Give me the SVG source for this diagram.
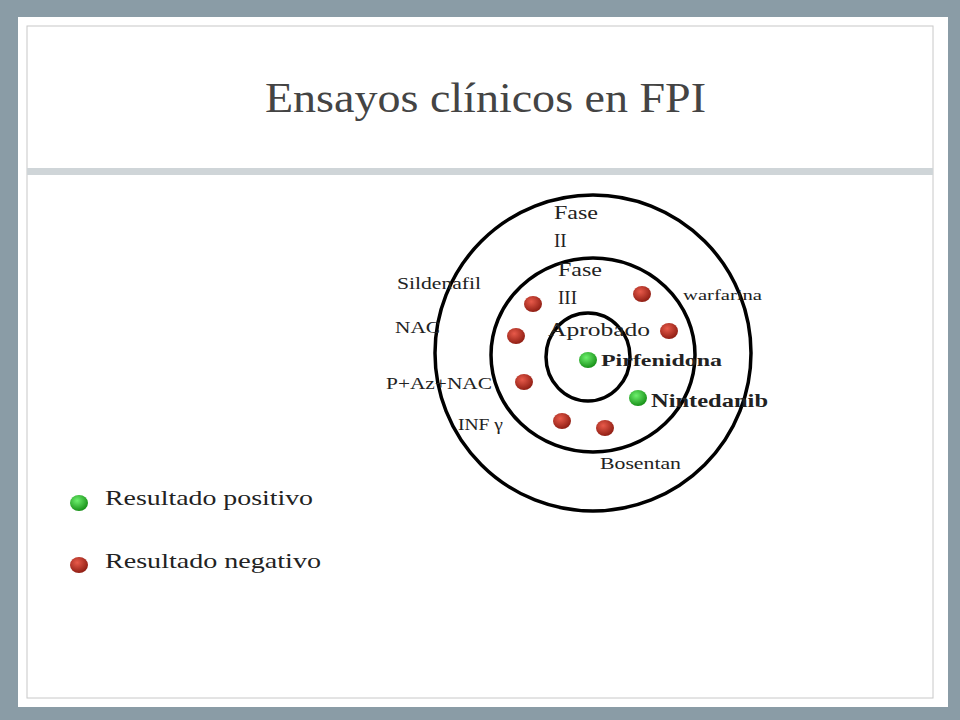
<svg xmlns="http://www.w3.org/2000/svg" width="960" height="720" viewBox="0 0 960 720">
<defs>
<radialGradient id="gr" cx="0.4" cy="0.35" r="0.7"><stop offset="0" stop-color="#e85a4a"/><stop offset="1" stop-color="#8a1a10"/></radialGradient>
<radialGradient id="gg" cx="0.4" cy="0.35" r="0.7"><stop offset="0" stop-color="#6ef06e"/><stop offset="1" stop-color="#128a12"/></radialGradient>
<style>
text{font-family:"Liberation Serif","DejaVu Serif",serif;fill:#222}
.ring{fill:none;stroke:#000;stroke-width:3.5}
.r{fill:url(#gr)}
.g{fill:url(#gg)}
.b{font-weight:bold}
</style>
</defs>
<rect width="960" height="720" fill="#8a9ca6"/>
<rect x="18" y="17" width="930" height="690" fill="#fff"/>
<rect x="27" y="26" width="906" height="672" fill="none" stroke="#c8c8c8" stroke-width="1"/>
<rect x="27" y="168" width="906" height="7" fill="#cfd5d8"/>
<text x="265" y="112" font-size="42" textLength="441" lengthAdjust="spacingAndGlyphs" style="fill:#444">Ensayos clínicos en FPI</text>
<g id="rings">
<circle class="ring" cx="593" cy="353" r="158"/>
<ellipse class="ring" cx="593" cy="355" rx="102" ry="97"/>
<ellipse class="ring" cx="588" cy="357" rx="42" ry="44"/>
</g>
<g id="labels" font-size="19">
<text x="554" y="219" textLength="44" lengthAdjust="spacingAndGlyphs">Fase</text>
<text x="554" y="247">II</text>
<text x="558" y="276" textLength="44" lengthAdjust="spacingAndGlyphs">Fase</text>
<text x="558" y="304">III</text>
<text x="548" y="336" textLength="102" lengthAdjust="spacingAndGlyphs">Aprobado</text>
<text x="397" y="289" font-size="16" textLength="84" lengthAdjust="spacingAndGlyphs">Sildenafil</text>
<text x="683" y="300" font-size="15" textLength="79" lengthAdjust="spacingAndGlyphs">warfarina</text>
<text x="395" y="333" font-size="16" textLength="45" lengthAdjust="spacingAndGlyphs">NAC</text>
<text x="386" y="389" font-size="16" textLength="106" lengthAdjust="spacingAndGlyphs">P+Az+NAC</text>
<text x="458" y="430" font-size="16" textLength="45" lengthAdjust="spacingAndGlyphs">INF γ</text>
<text x="600" y="469" font-size="16" textLength="81" lengthAdjust="spacingAndGlyphs">Bosentan</text>
<text x="601" y="366" font-size="17" class="b" textLength="121" lengthAdjust="spacingAndGlyphs">Pirfenidona</text>
<text x="651" y="407" font-size="18" class="b" textLength="117" lengthAdjust="spacingAndGlyphs">Nintedanib</text>
</g>
<g id="dots">
<ellipse class="r" cx="533" cy="304" rx="9" ry="8"/>
<ellipse class="r" cx="642" cy="294" rx="9" ry="8"/>
<ellipse class="r" cx="516" cy="336" rx="9" ry="8"/>
<ellipse class="r" cx="669" cy="331" rx="9" ry="8"/>
<ellipse class="r" cx="524" cy="382" rx="9" ry="8"/>
<ellipse class="r" cx="562" cy="421" rx="9" ry="8"/>
<ellipse class="r" cx="605" cy="428" rx="9" ry="8"/>
<ellipse class="g" cx="588" cy="360" rx="9" ry="8"/>
<ellipse class="g" cx="638" cy="398" rx="9" ry="8"/>
</g>
<g id="legend">
<ellipse class="g" cx="79" cy="503" rx="9" ry="8"/>
<ellipse class="r" cx="79" cy="565" rx="9" ry="8"/>
<text x="105" y="505" font-size="22" textLength="208" lengthAdjust="spacingAndGlyphs">Resultado positivo</text>
<text x="105" y="568" font-size="22" textLength="216" lengthAdjust="spacingAndGlyphs">Resultado negativo</text>
</g>
</svg>
